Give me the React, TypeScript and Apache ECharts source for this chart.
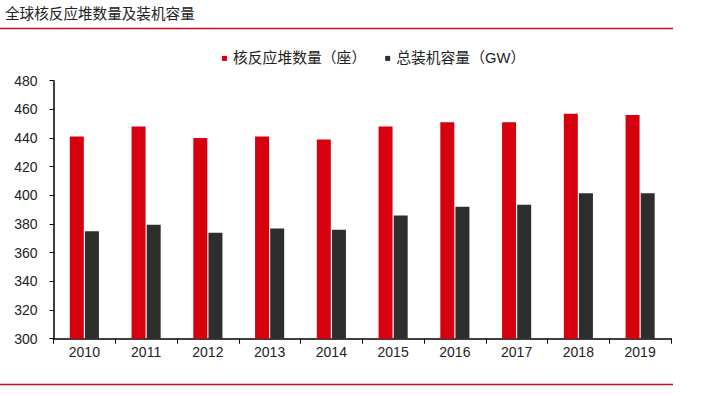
import React, { useEffect, useRef } from "react";
import * as echarts from "echarts";

const years = ["2010", "2011", "2012", "2013", "2014", "2015", "2016", "2017", "2018", "2019"];
const reactorCount = [441, 448, 440, 441, 439, 448, 451, 451, 457, 456];
const capacityGW = [375, 379.5, 374, 376.8, 376, 386, 392, 393.5, 401.5, 401.5];
const yTicks = { min: 300, max: 480, interval: 20 };

const FONT = "'Liberation Sans', 'Noto Sans CJK SC', sans-serif";

export default function App() {
  const ref = useRef<HTMLDivElement>(null);
  useEffect(() => {
    if (!ref.current) return;
    const chart = echarts.init(ref.current, undefined, { renderer: "svg" });
    chart.setOption({
      animation: false,
      backgroundColor: "#ffffff",
      textStyle: { fontFamily: FONT },
      graphic: [
        {
          type: "text",
          left: 5,
          top: 7,
          style: { text: "全球核反应堆数量及装机容量", fontSize: 14.6, fill: "#222", fontFamily: FONT },
        },
        {
          type: "line",
          shape: { x1: 0, y1: 28.5, x2: 673, y2: 28.5 },
          style: { stroke: "#c0121c", lineWidth: 1.5 },
        },
        {
          type: "line",
          shape: { x1: 0, y1: 384.5, x2: 673, y2: 384.5 },
          style: { stroke: "#c0121c", lineWidth: 1.5 },
        },
      ],
      legend: {
        top: 51,
        left: 222,
        padding: 0,
        itemWidth: 5,
        itemHeight: 5,
        itemGap: 19,
        icon: "rect",
        textStyle: { fontSize: 14.8, color: "#222", fontFamily: FONT, padding: [0, 0, 0, 1] },
        data: ["核反应堆数量（座）", "总装机容量（GW）"],
      },
      grid: { left: 53.5, right: 31, top: 80.7, bottom: 57.3, containLabel: false },
      xAxis: {
        type: "category",
        data: years,
        axisLine: { show: true, lineStyle: { color: "#000", width: 1.5 } },
        axisTick: { show: true, length: 5, lineStyle: { color: "#000" } },
        axisLabel: { fontSize: 14, color: "#222", margin: 6, fontFamily: FONT },
      },
      yAxis: {
        type: "value",
        min: yTicks.min,
        max: yTicks.max,
        interval: yTicks.interval,
        axisLine: { show: true, lineStyle: { color: "#000", width: 1.5 } },
        axisTick: { show: true, length: 4, lineStyle: { color: "#000" } },
        axisLabel: { fontSize: 14, color: "#222", margin: 16, fontFamily: FONT },
        splitLine: { show: false },
      },
      series: [
        {
          name: "核反应堆数量（座）",
          type: "bar",
          data: reactorCount,
          barWidth: 14,
          barGap: "8%",
          itemStyle: { color: "#d7000f" },
        },
        {
          name: "总装机容量（GW）",
          type: "bar",
          data: capacityGW,
          barWidth: 14,
          barGap: "8%",
          itemStyle: { color: "#2e2e2e" },
        },
      ],
    });
    return () => chart.dispose();
  }, []);
  return (
    <div
      ref={ref}
      style={{ position: "fixed", left: 0, top: 0, width: 702, height: 396 }}
    />
  );
}
